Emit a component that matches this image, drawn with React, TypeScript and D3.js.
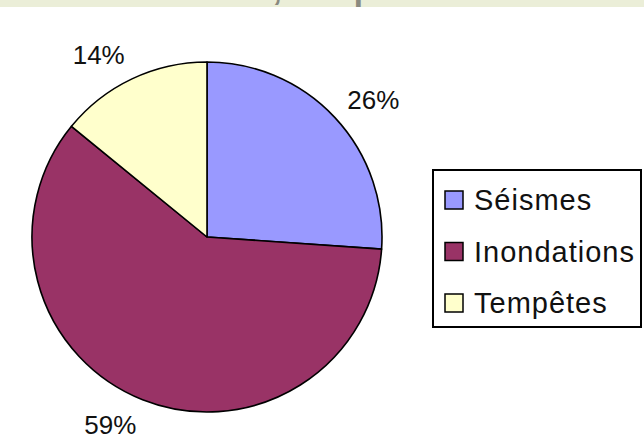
import { useEffect, useRef } from "react";
import * as d3 from "d3";

const categories = ["Séismes", "Inondations", "Tempêtes"];
const values = [26.1, 59.8, 14.1];
const labels = ["26%", "59%", "14%"];
const colors = ["#9999ff", "#993366", "#ffffcc"];

export default function App() {
  const svgRef = useRef<SVGSVGElement>(null);

  useEffect(() => {
    if (!svgRef.current) return;
    const svg = d3.select(svgRef.current);
    svg.selectAll("*").remove();

    const width = 644;
    const font = "Arial, 'Liberation Sans', sans-serif";

    // cut-off title band from the slide above
    svg.append("rect")
      .attr("x", 0).attr("y", 0)
      .attr("width", width).attr("height", 7)
      .attr("fill", "#ebeed8");
    svg.append("text")
      .attr("x", -4).attr("y", 0)
      .attr("font-family", font)
      .attr("font-size", 34)
      .attr("font-weight", "bold")
      .attr("fill", "#8a8a80")
      .text("a vie de l'Homme, ou qu");

    const cx = 207, cy = 237, r = 175;
    const g = svg.append("g").attr("transform", `translate(${cx},${cy})`);

    const pie = d3.pie<number>().sort(null).value(d => d);
    const arcs = pie(values);
    const arc = d3.arc<d3.PieArcDatum<number>>().innerRadius(0).outerRadius(r);

    g.selectAll("path.slice")
      .data(arcs)
      .enter()
      .append("path")
      .attr("class", "slice")
      .attr("d", arc)
      .attr("fill", (_, i) => colors[i])
      .attr("stroke", "#000")
      .attr("stroke-width", 1.6)
      .attr("stroke-linejoin", "round");

    // labels outside the pie, anchored on the side facing away from it
    const labelR = r + 17;
    const lh = 20;
    arcs.forEach((a, i) => {
      const mid = (a.startAngle + a.endAngle) / 2;
      const px = Math.sin(mid) * labelR;
      const py = -Math.cos(mid) * labelR - Math.cos(mid) * lh / 2;
      g.append("text")
        .attr("x", px)
        .attr("y", py)
        .attr("dy", "0.36em")
        .attr("text-anchor", Math.sin(mid) >= 0 ? "start" : "end")
        .attr("font-family", font)
        .attr("font-size", 26)
        .attr("fill", "#111")
        .text(labels[i]);
    });

    // legend
    const legend = svg.append("g").attr("transform", "translate(433,170)");
    legend.append("rect")
      .attr("width", 208).attr("height", 157)
      .attr("fill", "#fff")
      .attr("stroke", "#000")
      .attr("stroke-width", 2);

    const rowY = d3.scalePoint<string>().domain(categories).range([30, 133]);
    const rows = legend.selectAll("g.row")
      .data(categories)
      .enter()
      .append("g")
      .attr("class", "row")
      .attr("transform", d => `translate(0,${rowY(d)})`);

    rows.append("rect")
      .attr("x", 12).attr("y", -9)
      .attr("width", 18).attr("height", 18)
      .attr("fill", (_, i) => colors[i])
      .attr("stroke", "#000")
      .attr("stroke-width", 1.5);

    rows.append("text")
      .attr("x", 41)
      .attr("y", 0)
      .attr("dy", "0.36em")
      .attr("font-family", font)
      .attr("font-size", 29)
      .attr("letter-spacing", 1)
      .attr("fill", "#111")
      .text(d => d);
  }, []);

  return (
    <svg
      ref={svgRef}
      width={644}
      height={441}
      style={{ position: "absolute", left: 0, top: 0, background: "#fff" }}
    />
  );
}
